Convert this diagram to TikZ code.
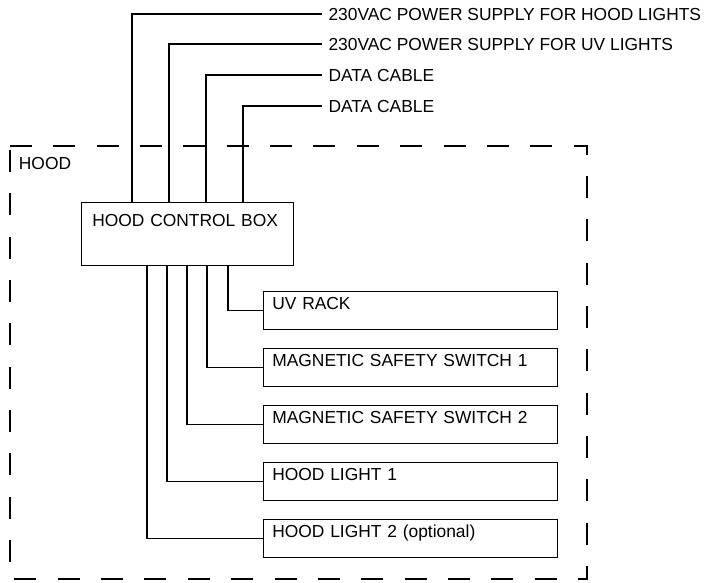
\documentclass[tikz,border=0pt]{standalone}
\usepackage{fontspec}
\setmainfont{Liberation Sans}
\begin{document}
\begin{tikzpicture}[x=1pt,y=-1pt,
  wire/.style={line width=1.2pt},
  txt/.style={font=\fontsize{17.4}{20}\selectfont},
  lbl/.style={txt, inner sep=0pt, anchor=west, text height=12.4pt, text depth=0pt},
  unitbox/.style={draw, line width=1.2pt, anchor=north west, txt, inner xsep=8.7pt, inner ysep=0pt,
    text width=276.6pt, text height=18pt, text depth=20pt, align=left},
  ctrlbox/.style={draw, line width=1.2pt, anchor=north west, txt, inner xsep=10.7pt, inner ysep=0pt,
    text width=190.6pt, text height=24pt, text depth=39pt, align=left},
  hoodframe/.style={line width=1.2pt, dash pattern=on 22pt off 21.35pt}
]
\useasboundingbox (0,0) rectangle (707,583);

% hood frame
\draw[hoodframe] (10,146) -- (587,146) -- (587,579) -- (10,579) -- cycle;
\node[txt, inner sep=0pt, anchor=base west] (hood) at (18.7,170) {HOOD};

% control box
\node[ctrlbox] (cb) at (81,202) {HOOD CONTROL BOX};

% external labels
\node[lbl] (l1) at (328.3,14) {230VAC POWER SUPPLY FOR HOOD LIGHTS};
\node[lbl] (l2) at (328.3,44) {230VAC POWER SUPPLY FOR UV LIGHTS};
\node[lbl] (l3) at (328.3,75) {DATA CABLE};
\node[lbl] (l4) at (328.3,106) {DATA CABLE};

\draw[wire] ([xshift=51pt]cb.north west) |- ([xshift=-6.3pt]l1.west);
\draw[wire] ([xshift=88pt]cb.north west) |- ([xshift=-6.3pt]l2.west);
\draw[wire] ([xshift=125pt]cb.north west) |- ([xshift=-6.3pt]l3.west);
\draw[wire] ([xshift=162pt]cb.north west) |- ([xshift=-6.3pt]l4.west);

% units
\node[unitbox] (uv)   at (263,291) {UV RACK};
\node[unitbox] (mss1) at (263,348) {MAGNETIC SAFETY SWITCH 1};
\node[unitbox] (mss2) at (263,405) {MAGNETIC SAFETY SWITCH 2};
\node[unitbox] (hl1)  at (263,462) {HOOD LIGHT 1};
\node[unitbox] (hl2)  at (263,519) {HOOD LIGHT 2 (optional)};

\draw[wire] ([xshift=147pt]cb.south west) |- (uv.west);
\draw[wire] ([xshift=126pt]cb.south west) |- (mss1.west);
\draw[wire] ([xshift=106pt]cb.south west) |- (mss2.west);
\draw[wire] ([xshift=86pt]cb.south west) |- (hl1.west);
\draw[wire] ([xshift=66pt]cb.south west) |- (hl2.west);
\end{tikzpicture}
\end{document}
